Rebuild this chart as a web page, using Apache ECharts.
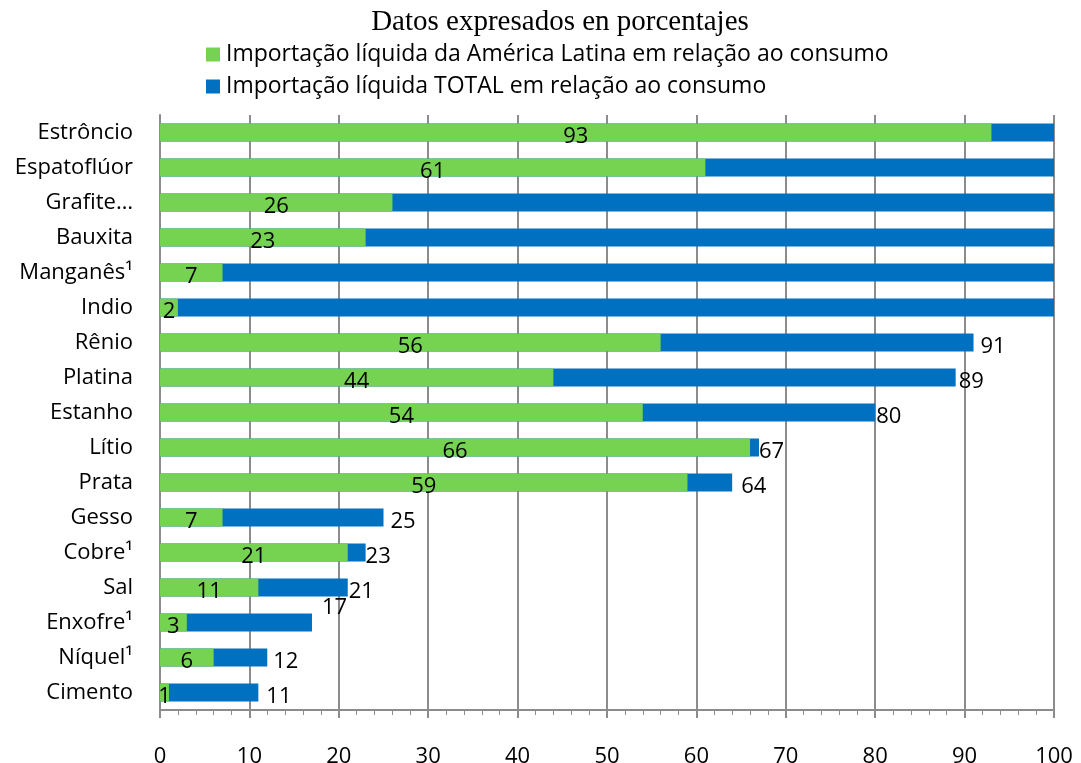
<!DOCTYPE html>
<html>
<head>
<meta charset="utf-8">
<script src="https://cdn.jsdelivr.net/npm/echarts@6/dist/echarts.min.js"></script>
<style>
  html, body { margin: 0; padding: 0; background: #fff; }
  #box01 { width: 1081px; height: 763px; }
</style>
</head>
<body>
<div id="box01"></div>
<script>
// categorias (de cima para baixo)
var minerais = ['Estrôncio','Espatoflúor','Grafite…','Bauxita','Manganês¹','Indio','Rênio','Platina','Estanho','Lítio','Prata','Gesso','Cobre¹','Sal','Enxofre¹','Níquel¹','Cimento'];
// importação líquida da América Latina (%)
var americaLatina = [93, 61, 26, 23, 7, 2, 56, 44, 54, 66, 59, 7, 21, 11, 3, 6, 1];
// importação líquida total (%)
var total = [100, 100, 100, 100, 100, 100, 91, 89, 80, 67, 64, 25, 23, 21, 17, 12, 11];
var xTicks = [0, 10, 20, 30, 40, 50, 60, 70, 80, 90, 100];

var nomeAL = 'Importação líquida da América Latina em relação ao consumo';
var nomeTotal = 'Importação líquida TOTAL em relação ao consumo';

// ajustes dos rótulos do total (distância ao fim da barra)
var distTotal = {'Rênio':7,'Platina':3,'Estanho':1,'Lítio':0,'Prata':9,'Gesso':7,'Cobre¹':0,'Sal':1,'Níquel¹':6,'Cimento':8};

var fonte = '"Open Sans", Lato, sans-serif';

var myChart = echarts.init(document.getElementById('box01'));

var dadosTotal = total.map(function (v, i) {
    var nome = minerais[i];
    var item = { value: v, label: { show: v < 100 } };
    if (distTotal[nome] !== undefined) item.label.distance = distTotal[nome];
    if (nome === 'Enxofre¹') {
        item.label.distance = 10;
        item.label.offset = [0, -15];
    }
    return item;
});

var option = {
    animation: false,
    title: {
        text: 'Datos expresados en porcentajes',
        left: 555,
        textAlign: 'center',
        top: 3,
        textStyle: {
            fontFamily: '"Liberation Serif", "Times New Roman", serif',
            fontWeight: 'normal',
            fontSize: 29,
            color: '#000'
        }
    },
    legend: {
        orient: 'vertical',
        left: 201,
        top: 38,
        icon: 'rect',
        itemWidth: 14,
        itemHeight: 14,
        itemGap: 9,
        data: [nomeAL, nomeTotal],
        textStyle: { fontFamily: fonte, fontSize: 23, color: '#000', padding: [0, 0, 0, 1] }
    },
    grid: {
        left: 160,
        right: 27,
        top: 115,
        bottom: 53,
        containLabel: false,
        outerBoundsMode: 'none'
    },
    xAxis: {
        type: 'value',
        min: 0,
        max: 100,
        interval: 10,
        axisLine: { show: true, lineStyle: { color: '#8c8c8c', width: 2 } },
        axisTick: { show: true, inside: false, length: 8, lineStyle: { color: '#8c8c8c', width: 2 } },
        minorTick: { show: true, splitNumber: 5, length: 5, lineStyle: { color: '#8c8c8c', width: 1 } },
        splitLine: { show: true, lineStyle: { color: '#8c8c8c', width: 2 } },
        axisLabel: {
            margin: 36,
            fontFamily: fonte,
            fontSize: 22,
            color: '#000',
            customValues: xTicks
        }
    },
    yAxis: {
        type: 'category',
        inverse: true,
        data: minerais,
        axisLine: { show: true, lineStyle: { color: '#8c8c8c', width: 2 } },
        axisTick: { show: false },
        axisLabel: { margin: 27, fontFamily: fonte, fontSize: 22, color: '#000' }
    },
    series: [
        {
            name: nomeAL,
            type: 'bar',
            barWidth: 18,
            barGap: '-100%',
            z: 3,
            itemStyle: { color: '#76d352' },
            label: {
                show: true,
                position: 'inside',
                offset: [0, 4],
                fontFamily: fonte,
                fontSize: 22,
                color: '#000'
            },
            data: americaLatina
        },
        {
            name: nomeTotal,
            type: 'bar',
            barWidth: 18,
            barGap: '-100%',
            z: 2,
            itemStyle: { color: '#0070c0' },
            label: {
                show: true,
                position: 'right',
                distance: 8,
                offset: [0, 4],
                fontFamily: fonte,
                fontSize: 22,
                color: '#000'
            },
            data: dadosTotal
        }
    ]
};

myChart.setOption(option);
</script>
</body>
</html>
